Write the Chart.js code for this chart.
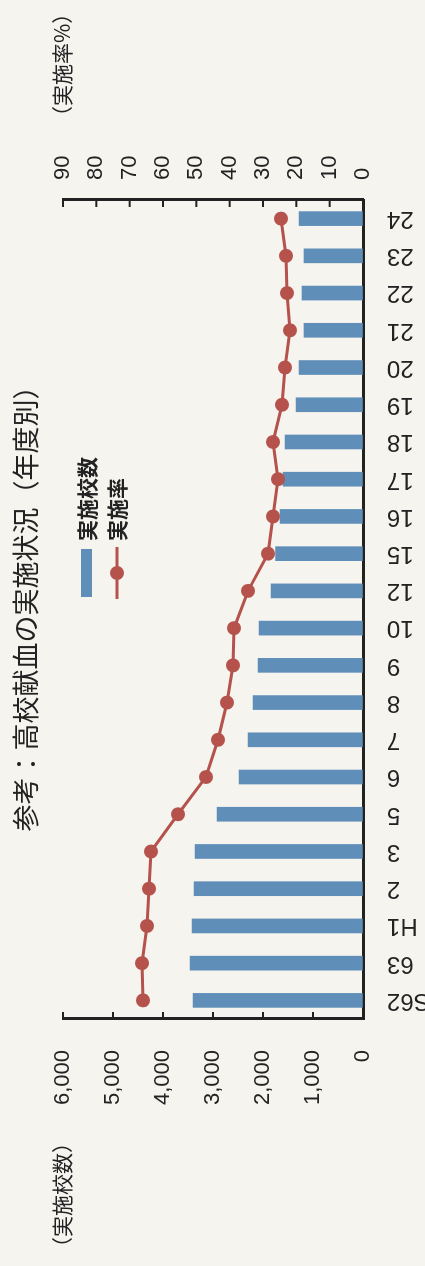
<!DOCTYPE html>
<html>
<head>
<meta charset="utf-8">
<script src="https://cdn.jsdelivr.net/npm/chart.js@4.4.1/dist/chart.umd.min.js"></script>
<style>
  html, body { margin: 0; padding: 0; background: #f6f4ef; overflow: hidden; }
  #wrap {
    position: absolute; left: 0; top: 0;
    width: 1266px; height: 425px;
    transform-origin: 0 0;
    transform: translate(0, 1266px) rotate(-90deg);
  }
</style>
</head>
<body>
<div id="wrap"><canvas id="area" width="1266" height="425"></canvas></div>
<script>
  var years = ["S62","63","H1","2","3","5","6","7","8","9","10","12","15","16","17","18","19","20","21","22","23","24"];
  var schools = [3400,3460,3420,3380,3360,2920,2480,2300,2200,2100,2080,1840,1750,1660,1600,1560,1340,1280,1180,1220,1180,1280];
  var rate = [66.0,66.3,64.8,64.2,63.6,55.5,47.1,43.5,40.8,39.0,38.7,34.5,28.5,27.0,25.5,27.0,24.3,23.4,21.9,22.8,23.1,24.6];
  var titleText = "参考：高校献血の実施状況（年度別）";
  var leftTitle = "（実施校数）";
  var rightTitle = "（実施率%）";

  var numFont = "'Liberation Sans', Arial, sans-serif";
  var jpFont = "'Noto Sans CJK JP', 'Noto Sans', sans-serif";
  var ink = '#222';
  var barColor = '#5f8eb9';
  var lineColor = '#b5524c';

  // inward tick marks, titles and legend
  var extras = {
    id: 'extras',
    afterDraw: function(chart) {
      var c = chart.ctx, a = chart.chartArea;
      var y = chart.scales.y, y1 = chart.scales.y1;
      c.save();
      c.strokeStyle = ink;
      c.lineWidth = 2;
      y.ticks.forEach(function(t) {
        var p = y.getPixelForValue(t.value);
        c.beginPath(); c.moveTo(a.left, p); c.lineTo(a.left + 7, p); c.stroke();
      });
      y1.ticks.forEach(function(t) {
        var p = y1.getPixelForValue(t.value);
        c.beginPath(); c.moveTo(a.right, p); c.lineTo(a.right - 7, p); c.stroke();
      });

      c.fillStyle = ink;
      c.textBaseline = 'middle';
      c.textAlign = 'center';
      c.font = "27px " + jpFont;
      c.fillText(titleText, 664, 26);

      c.font = "21px " + jpFont;
      c.textAlign = 'left';
      c.fillText(leftTitle, 8, 62);
      c.fillText(rightTitle, 1139, 62);

      // legend
      c.fillStyle = barColor;
      c.fillRect(669, 81, 48, 11);
      c.strokeStyle = lineColor;
      c.lineWidth = 3;
      c.beginPath(); c.moveTo(667, 117); c.lineTo(719, 117); c.stroke();
      c.fillStyle = lineColor;
      c.beginPath(); c.arc(693, 117, 7, 0, Math.PI * 2); c.fill();
      c.fillStyle = ink;
      c.font = "bold 21px " + jpFont;
      var bars = chart.data.datasets[1], line = chart.data.datasets[0];
      c.fillText(bars.label, 725, 87);
      c.fillText(line.label, 725, 117);
      c.restore();
    }
  };

  var ctx = document.getElementById("area");
  var myChart = new Chart(ctx, {
    type: 'bar',
    data: {
      labels: years,
      datasets: [
        {
          type: 'line',
          label: "実施率",
          data: rate,
          yAxisID: 'y1',
          borderColor: lineColor,
          backgroundColor: lineColor,
          borderWidth: 3,
          pointRadius: 7,
          pointBackgroundColor: lineColor,
          pointBorderWidth: 0,
          tension: 0,
          order: 0
        },
        {
          label: "実施校数",
          data: schools,
          yAxisID: 'y',
          backgroundColor: barColor,
          barThickness: 14,
          order: 1
        }
      ]
    },
    options: {
      responsive: false,
      animation: false,
      devicePixelRatio: 1,
      layout: { padding: { top: 63, left: 0, right: 0, bottom: 0 } },
      plugins: { legend: { display: false }, tooltip: { enabled: false } },
      scales: {
        x: {
          offset: true,
          grid: { display: false },
          border: { display: true, color: ink, width: 3 },
          ticks: {
            color: ink, font: { family: numFont, size: 24 },
            minRotation: 90, maxRotation: 90, padding: 16, autoSkip: false
          },
          afterFit: function(s) { s.height = 62; }
        },
        y: {
          position: 'left',
          min: 0, max: 6000,
          grid: { drawOnChartArea: false, drawTicks: false },
          border: { display: true, color: ink, width: 3 },
          ticks: {
            stepSize: 1000, color: ink, padding: 31, autoSkip: false,
            font: { family: numFont, size: 22 },
            callback: function(v) { return v.toLocaleString('en-US'); }
          },
          afterFit: function(s) { s.width = 247; }
        },
        y1: {
          position: 'right',
          min: 0, max: 90,
          grid: { drawOnChartArea: false, drawTicks: false },
          border: { display: true, color: ink, width: 3 },
          ticks: {
            stepSize: 10, color: ink, padding: 20, autoSkip: false,
            font: { family: numFont, size: 22 }
          },
          afterFit: function(s) { s.width = 200; }
        }
      }
    },
    plugins: [extras]
  });
</script>
</body>
</html>
